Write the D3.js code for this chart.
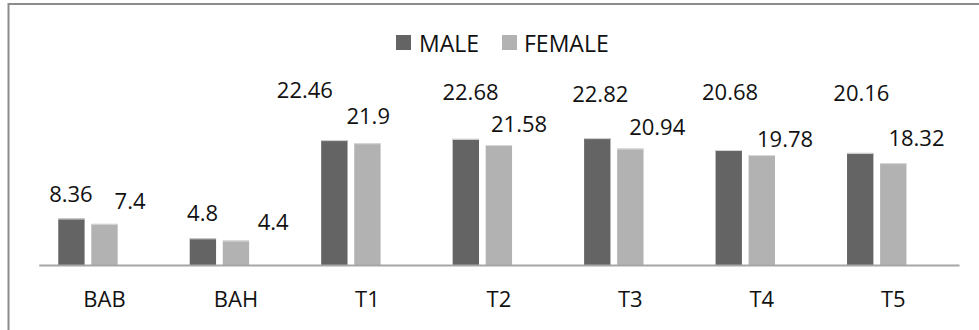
<!DOCTYPE html>
<html>
<head>
<meta charset="utf-8">
<script src="https://cdn.jsdelivr.net/npm/d3@7/dist/d3.min.js"></script>
<style>
  html, body { margin: 0; padding: 0; background: #fff; }
  svg { display: block; font-family: "Open Sans", "Liberation Sans", sans-serif; }
</style>
</head>
<body>
<svg id="chart" width="979" height="330"></svg>
<script>
// Categories and series values
const categories = ["BAB", "BAH", "T1", "T2", "T3", "T4", "T5"];
const seriesNames = ["MALE", "FEMALE"];
const maleValues = [8.36, 4.8, 22.46, 22.68, 22.82, 20.68, 20.16];
const femaleValues = [7.4, 4.4, 21.9, 21.58, 20.94, 19.78, 18.32];

// Hand-placed data label nudges [dx, dy] from the bar's top centre
const maleLabelNudge = [[-0.5, -26], [-0.3, -26], [-29.5, -51], [4.7, -48], [3, -45.5], [1.3, -59], [1.2, -60.5]];
const femaleLabelNudge = [[25.6, -24], [37.2, -19.5], [0.8, -28], [20.2, -22.5], [26.9, -22.6], [23.3, -17], [23.2, -26]];

const colors = { MALE: "#646464", FEMALE: "#b2b2b2" };
const textFont = "\"Open Sans\", \"Liberation Sans\", sans-serif";

const svg = d3.select("#chart");

// Frame around the chart area
svg.append("rect")
  .attr("x", 8.5).attr("y", 4)
  .attr("width", 1200).attr("height", 1000)
  .attr("fill", "none")
  .attr("stroke", "#8c8c8c")
  .attr("stroke-width", 2);

const plot = { left: 38.75, right: 959, bottom: 265 };

const x = d3.scaleBand()
  .domain(categories)
  .range([plot.left, plot.right])
  .padding(0);

// Three slots per category; the third stays empty
const xSub = d3.scaleBand()
  .domain(["MALE", "FEMALE", "spare"])
  .range([0, x.bandwidth()])
  .paddingInner(0.203)
  .paddingOuter(0.59);

const y = d3.scaleLinear()
  .domain([0, 25])
  .range([plot.bottom, plot.bottom - 25 * 5.56]);

const rows = categories.map((c, i) => ({
  cat: c,
  MALE: maleValues[i],
  FEMALE: femaleValues[i],
  nudge: { MALE: maleLabelNudge[i], FEMALE: femaleLabelNudge[i] }
}));

const groups = svg.append("g").selectAll("g")
  .data(rows)
  .join("g")
  .attr("transform", d => `translate(${x(d.cat)},0)`);

groups.selectAll("rect")
  .data(d => seriesNames.map(s => ({ s, v: d[s] })))
  .join("rect")
  .attr("x", d => xSub(d.s))
  .attr("width", xSub.bandwidth())
  .attr("y", d => y(d.v))
  .attr("height", d => y(0) - y(d.v))
  .attr("fill", d => colors[d.s]);

// Light top edge on each bar
groups.selectAll("line.edge")
  .data(d => seriesNames.map(s => ({ s, v: d[s] })))
  .join("line")
  .attr("class", "edge")
  .attr("x1", d => xSub(d.s))
  .attr("x2", d => xSub(d.s) + xSub.bandwidth())
  .attr("y1", d => y(d.v) + 0.5)
  .attr("y2", d => y(d.v) + 0.5)
  .attr("stroke", "#d9d9d9")
  .attr("stroke-width", 1);

// Data labels
groups.selectAll("text.val")
  .data(d => seriesNames.map(s => ({ s, v: d[s], n: d.nudge[s] })))
  .join("text")
  .attr("class", "val")
  .attr("x", d => xSub(d.s) + xSub.bandwidth() / 2 + d.n[0])
  .attr("y", d => y(d.v) + d.n[1])
  .attr("text-anchor", "middle")
  .attr("dominant-baseline", "central")
  .attr("font-size", 22)
  .attr("fill", "#111")
  .text(d => d.v);

// Category axis
const xAxis = svg.append("g")
  .attr("transform", `translate(0,${plot.bottom})`)
  .call(d3.axisBottom(x).tickSize(0).tickPadding(26));
xAxis.select(".domain")
  .attr("stroke", "#a6a6a6")
  .attr("stroke-width", 2);
xAxis.selectAll("text")
  .attr("font-size", 22)
  .attr("font-family", textFont)
  .attr("fill", "#111");

// Legend
const legendItems = [
  { s: "MALE", sx: 396, tx: 419 },
  { s: "FEMALE", sx: 502, tx: 524 }
];
const legend = svg.append("g");
legend.selectAll("rect")
  .data(legendItems)
  .join("rect")
  .attr("x", d => d.sx).attr("y", 35)
  .attr("width", 15).attr("height", 15)
  .attr("fill", d => colors[d.s]);
legend.selectAll("text")
  .data(legendItems)
  .join("text")
  .attr("x", d => d.tx).attr("y", 43)
  .attr("dominant-baseline", "central")
  .attr("font-size", 23)
  .attr("fill", "#111")
  .text(d => d.s);
</script>
</body>
</html>
